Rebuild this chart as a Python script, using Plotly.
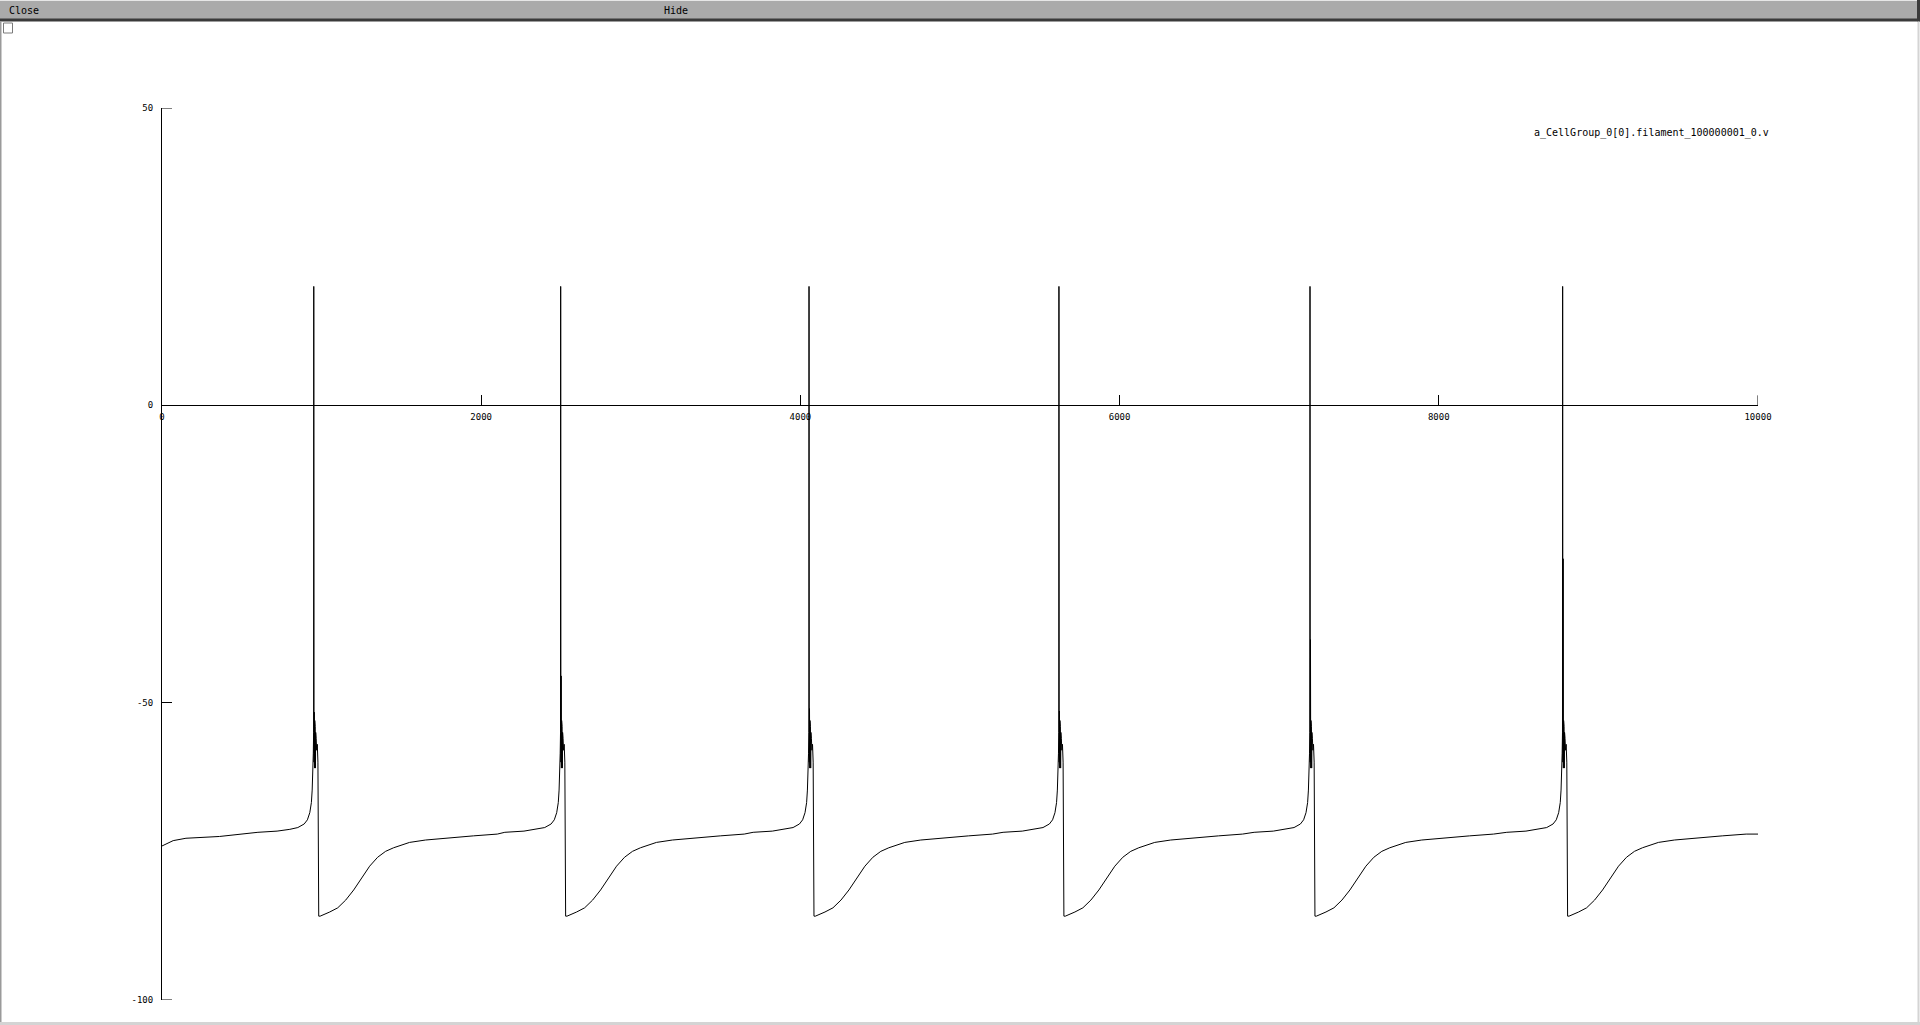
import plotly.graph_objects as go

# ---------------- data ----------------
x_ticks = [0, 2000, 4000, 6000, 8000, 10000]
y_ticks = [-100, -50, 0, 50]
trace_name = "a_CellGroup_0[0].filament_100000001_0.v"

start_t = [0, 70, 150, 360]
start_v = [-74.1, -73.2, -72.8, -72.5]

spike_times = [951, 2498, 4054, 5620, 7193, 8776]
spike_peak = [20, 20, 20, 20, 20, 20]
after_peak = [-51.6, -45.5, -51.0, -51.4, -39.4, -25.8]

pre_offsets = [-350, -230, -150, -100, -60, -40, -25, -15, -10, -6, -3, -1]
pre_v = [-71.8, -71.6, -71.3, -71.0, -70.4, -69.7, -68.5, -66.8, -64.7, -62.0, -58.5, -55.0]

burst_offsets = [1.5, 3, 4.5, 6, 7.5, 9, 10.5, 12, 13.5, 15, 18, 22, 26, 28, 31]
burst_v = [-60, None, -61, -53, -61, -54, -61, -55, -61, -56, -58, -57, -60, -84, -85.9]

post_offsets = [40, 70, 100, 150, 200, 250, 300, 350, 400, 450, 500, 600, 700, 850, 1000, 1150]
post_v = [-85.9, -85.6, -85.2, -84.5, -83.2, -81.5, -79.5, -77.5, -76.0, -75.0, -74.4, -73.5, -73.1, -72.7, -72.4, -72.1]

end_t = [10000]
end_v = [-72.1]

# ---------------- assemble the trace ----------------
t_all = list(start_t)
v_all = list(start_v)
for ts, pk, ap in zip(spike_times, spike_peak, after_peak):
    for o, v in zip(pre_offsets, pre_v):
        t_all.append(ts + o); v_all.append(v)
    t_all.append(ts); v_all.append(pk)
    for o, v in zip(burst_offsets, burst_v):
        t_all.append(ts + o); v_all.append(ap if v is None else v)
    for o, v in zip(post_offsets, post_v):
        t_all.append(ts + o); v_all.append(v)
t_all += end_t
v_all += end_v

# ---------------- geometry helpers (pixel -> paper) ----------------
W, H = 1920, 1025
PL, PR, PT, PB = 162, 1758, 108, 1000


def px(x):
    return (x - PL) / (PR - PL)


def py(y):
    return (PB - y) / (PB - PT)


MONO = "DejaVu Sans Mono"
X_RANGE = [0, 10000]
Y_RANGE = [-100, 50]
TICKLEN = 10

fig = go.Figure()
fig.add_trace(go.Scatter(x=t_all, y=v_all, mode="lines",
                         line=dict(color="black", width=1),
                         showlegend=False, hoverinfo="skip", cliponaxis=False))

fig.update_layout(
    width=W, height=H,
    margin=dict(l=PL, r=W - PR, t=PT, b=H - PB, pad=0),
    paper_bgcolor="white", plot_bgcolor="white",
    font=dict(family=MONO, size=9, color="black"),
    xaxis=dict(range=X_RANGE, tickvals=x_ticks,
               ticktext=[str(v) for v in x_ticks],
               anchor="free", position=(0 - Y_RANGE[0]) / (Y_RANGE[1] - Y_RANGE[0]),
               side="bottom",
               showline=True, linecolor="black", linewidth=1,
               ticks="inside", ticklen=TICKLEN, tickcolor="black", tickwidth=1,
               showgrid=False, zeroline=False, tickfont=dict(family=MONO, size=9),
               ticklabelstandoff=3),
    yaxis=dict(range=Y_RANGE, tickvals=y_ticks,
               ticktext=[str(v) for v in y_ticks],
               showline=True, linecolor="black", linewidth=1,
               ticks="inside", ticklen=TICKLEN, tickcolor="black", tickwidth=1,
               showgrid=False, zeroline=False, tickfont=dict(family=MONO, size=9),
               ticklabelstandoff=6),
)

shapes = []
# tick marks at the ends of the axes (plotly hides inside ticks there)
for yv in y_ticks:
    if yv in Y_RANGE:
        shapes.append(dict(type="line", xref="x", yref="y", xsizemode="pixel",
                           xanchor=X_RANGE[0], x0=0, x1=TICKLEN, y0=yv, y1=yv,
                           line=dict(color="black", width=1), layer="above"))
for xv in x_ticks:
    if xv == X_RANGE[1]:
        shapes.append(dict(type="line", xref="x", yref="y", ysizemode="pixel",
                           yanchor=0, y0=0, y1=TICKLEN, x0=xv, x1=xv,
                           line=dict(color="black", width=1), layer="above"))

# title bar
shapes.append(dict(type="rect", xref="paper", yref="paper",
                   x0=px(0), x1=px(W), y0=py(0), y1=py(19),
                   fillcolor="#aaaaaa", line=dict(width=0), layer="above"))
shapes.append(dict(type="rect", xref="paper", yref="paper",
                   x0=px(0), x1=px(W), y0=py(0), y1=py(1),
                   fillcolor="#e6e6e6", line=dict(width=0), layer="above"))
shapes.append(dict(type="rect", xref="paper", yref="paper",
                   x0=px(0), x1=px(W), y0=py(18.5), y1=py(21.5),
                   fillcolor="#3a3a3a", line=dict(width=0), layer="above"))
shapes.append(dict(type="rect", xref="paper", yref="paper",
                   x0=px(1917), x1=px(W), y0=py(0), y1=py(21.5),
                   fillcolor="#3a3a3a", line=dict(width=0), layer="above"))
# window borders
shapes.append(dict(type="rect", xref="paper", yref="paper",
                   x0=px(0), x1=px(1.5), y0=py(21.5), y1=py(H),
                   fillcolor="#9a9a9a", line=dict(width=0), layer="above"))
shapes.append(dict(type="rect", xref="paper", yref="paper",
                   x0=px(1917.5), x1=px(1919.5), y0=py(21.5), y1=py(H),
                   fillcolor="#d4d4d4", line=dict(width=0), layer="above"))
shapes.append(dict(type="rect", xref="paper", yref="paper",
                   x0=px(0), x1=px(W), y0=py(1022), y1=py(H),
                   fillcolor="#d4d4d4", line=dict(width=0), layer="above"))
# small checkbox
shapes.append(dict(type="rect", xref="paper", yref="paper",
                   x0=px(3.5), x1=px(12.5), y0=py(23), y1=py(33),
                   fillcolor="white", line=dict(color="#7a7a7a", width=1), layer="above"))

annotations = [
    dict(text="Close", xref="paper", yref="paper", x=px(7), y=py(10),
         xanchor="left", yanchor="middle", showarrow=False,
         font=dict(family=MONO, size=10, color="black")),
    dict(text="Hide", xref="paper", yref="paper", x=px(662), y=py(10),
         xanchor="left", yanchor="middle", showarrow=False,
         font=dict(family=MONO, size=10, color="black")),
    dict(text=trace_name, xref="paper", yref="paper", x=px(1532), y=py(133),
         xanchor="left", yanchor="middle", showarrow=False,
         font=dict(family=MONO, size=10, color="black")),
]

fig.update_layout(shapes=shapes, annotations=annotations)
fig.write_html("out.html")
